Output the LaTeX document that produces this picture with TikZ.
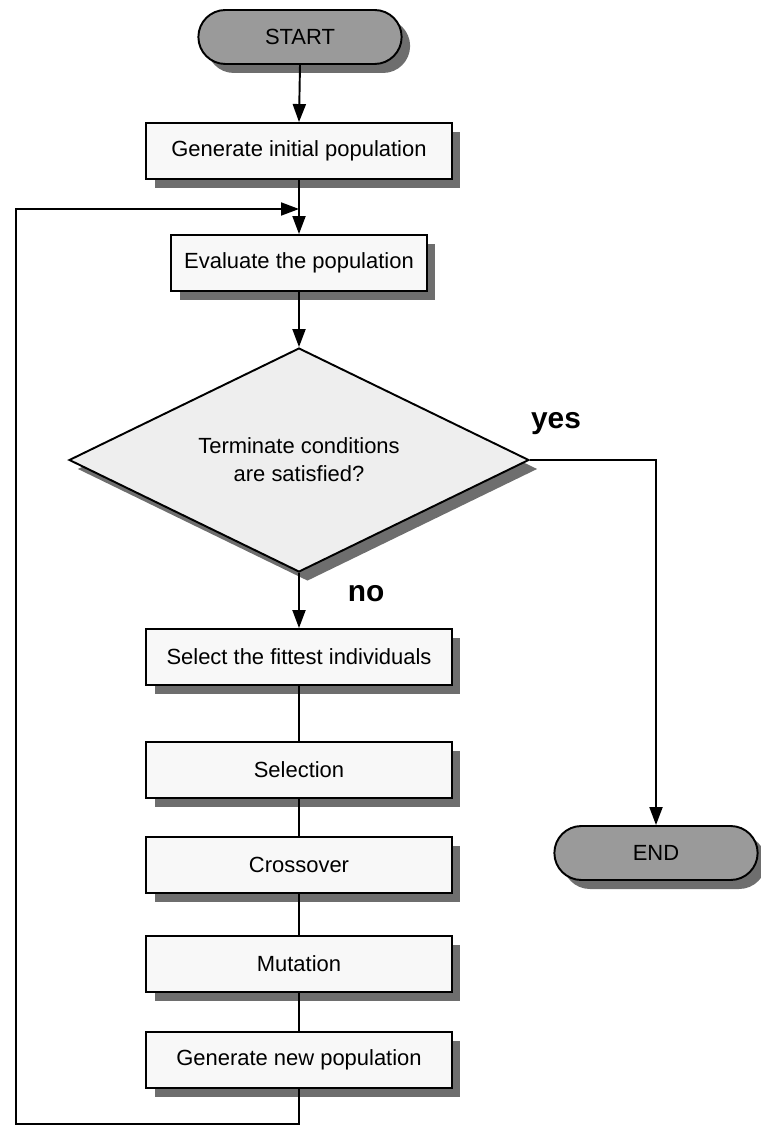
\documentclass[tikz,border=0pt]{standalone}
\usepackage{fontspec}
\setmainfont{Liberation Sans}
\usetikzlibrary{arrows.meta,shapes.geometric,shapes.misc,shadows}
\definecolor{gabox}{HTML}{F8F8F8}
\definecolor{gadiam}{HTML}{EEEEEE}
\definecolor{gaterm}{HTML}{9A9A9A}
\definecolor{gashadow}{HTML}{6E6E6E}

\begin{document}
\begin{tikzpicture}[
    x=0.02cm,y=-0.02cm,
    shade/.style={drop shadow={shadow xshift=0.17cm, shadow yshift=-0.18cm, fill=gashadow, opacity=1}},
    terminal/.style={rounded rectangle, draw=black, line width=1.1pt, fill=gaterm, shade, minimum width=4.3cm, minimum height=1.08cm, font=\fontsize{12.5}{15}\selectfont},
    stepbox/.style={rectangle, draw=black, line width=1.1pt, fill=gabox, shade, minimum width=6.12cm, minimum height=1.12cm, font=\fontsize{12.5}{15}\selectfont},
    decision/.style={diamond, aspect=2, inner sep=0pt, draw=black, line width=1.1pt, fill=gadiam, shade, minimum width=9.2cm, minimum height=4.48cm, align=center, font=\fontsize{12.5}{16}\selectfont},
    answer/.style={font=\fontsize{17}{20}\selectfont\bfseries},
    link/.style={draw=black, line width=1.1pt, -{Triangle[length=0.36cm, width=0.26cm]}},
    plain/.style={draw=black, line width=1.1pt}
  ]
    \useasboundingbox (0,0) rectangle (760,1128);

    \node[terminal] (start) at (300,37) {START};
    \node[stepbox] (initpop) at (299,151) {Generate initial population};
    \node[stepbox, minimum width=5.12cm] (evalpop) at (299,263) {Evaluate the population};
    \node[decision] (cond) at (299,460) {Terminate conditions\\are satisfied?};
    \node[stepbox] (fittest) at (299,657) {Select the fittest individuals};
    \node[stepbox] (selection) at (299,770) {Selection};
    \node[stepbox] (crossover) at (299,865) {Crossover};
    \node[stepbox] (mutation) at (299,964) {Mutation};
    \node[stepbox] (newpop) at (299,1060) {Generate new population};
    \node[terminal] (finish) at (656,853) {END};

    \node[answer] (yes) at (556,424) {yes};
    \node[answer] (no) at (366,594) {no};

    \coordinate (merge) at (299,209);
    \coordinate (loopbot) at (16,1124);

    \draw[link] (start.south) -- (initpop.north);
    \draw[plain] (initpop.south) -- (merge);
    \draw[link] (merge) -- (evalpop.north);
    \draw[link] (evalpop.south) -- (cond.north);
    \draw[link] (cond.south) -- (fittest.north);
    \draw[link] (cond.east) -| (finish.north);

    \draw[plain] (fittest.south) -- (selection.north);
    \draw[plain] (selection.south) -- (crossover.north);
    \draw[plain] (crossover.south) -- (mutation.north);
    \draw[plain] (mutation.south) -- (newpop.north);

    \draw[link] (newpop.south) |- (loopbot) |- (merge);
\end{tikzpicture}
\end{document}
